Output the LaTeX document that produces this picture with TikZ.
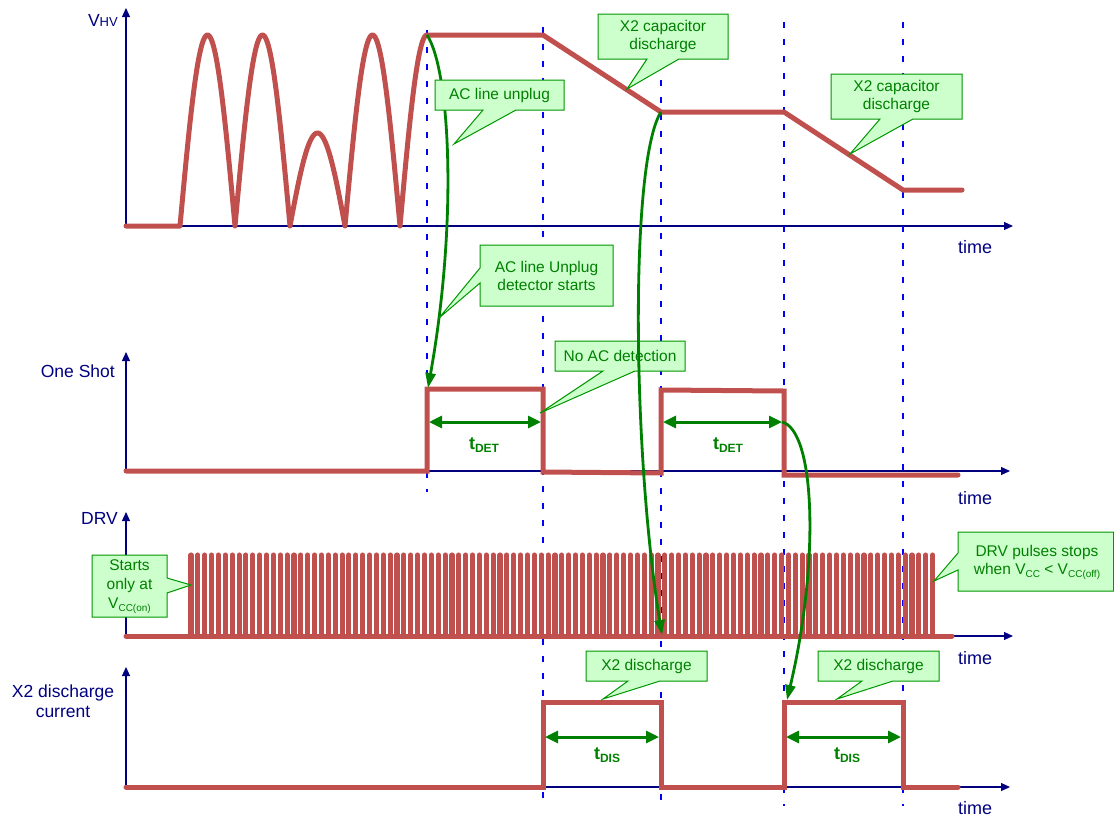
\documentclass[tikz,border=0pt]{standalone}
\usepackage{fontspec}
\setmainfont{Liberation Sans}
\usetikzlibrary{arrows.meta}
\definecolor{wred}{RGB}{192,80,77}
\definecolor{navy}{RGB}{0,0,128}
\definecolor{cfill}{RGB}{204,255,204}
\definecolor{cline}{RGB}{0,150,0}
\definecolor{ctext}{RGB}{0,128,0}
\definecolor{gcurve}{RGB}{0,128,0}
\newcommand{\lowsub}[2][10]{\raisebox{-0.35ex}{\fontsize{#1}{#1}\selectfont #2}}
\tikzset{
  axis/.style={draw=navy, line width=1.1pt, -{Triangle[length=9pt,width=8pt]}},
  lbl/.style={text=navy, font=\fontsize{17.5}{20}\selectfont, inner sep=0pt},
  timelbl/.style={text=navy, font=\fontsize{18}{20}\selectfont, anchor=base west, inner sep=0pt},
  guide/.style={draw=blue, line width=1.5pt, dash pattern=on 6pt off 11pt},
  wave/.style={draw=wred, line width=5pt, line cap=round, line join=round},
  sq/.style={draw=wred, line width=5pt, line cap=round, line join=miter},
  pulse/.style={draw=wred, line width=5.1pt, line cap=round},
  dimarrow/.style={draw=gcurve, line width=3pt, {Triangle[length=13pt,width=12pt]}-{Triangle[length=13pt,width=12pt]}},
  link/.style={draw=gcurve, line width=2.8pt, -{Triangle[length=15pt,width=10pt]}},
  cshape/.style={draw=cline, fill=cfill, line width=1pt, line join=miter},
  ctxt/.style={text=ctext, font=\fontsize{15.5}{18}\selectfont, align=center, inner sep=0pt},
  dimlbl/.style={text=gcurve, font=\fontsize{18}{18}\selectfont\bfseries, inner sep=0pt},
}
\begin{document}
\begin{tikzpicture}[x=1pt,y=-1pt]
\useasboundingbox (0,0) rectangle (1114,817);

% ---------- axes ----------
\coordinate (o1) at (126,226);
\coordinate (o2) at (126,471);
\coordinate (o3) at (126,636);
\coordinate (o4) at (126,787);
\coordinate (v1) at (126,8);
\coordinate (v2) at (126,352);
\coordinate (v3) at (126,512);
\coordinate (v4) at (126,667);
\coordinate (h1) at (1013,226);
\coordinate (h2) at (1010,471);
\coordinate (h3) at (1013,636);
\coordinate (h4) at (1010,787);
\draw[axis] (o1) -- (v1);
\draw[axis] (o1) -- (h1);
\draw[axis] (o2) -- (v2);
\draw[axis] (o2) -- (h2);
\draw[axis] (o3) -- (v3);
\draw[axis] (o3) -- (h3);
\draw[axis] (o4) -- (v4);
\draw[axis] (o4) -- (h4);

\node[lbl, anchor=base east] (lv) at (118,26) {V{\fontsize{13}{13}\selectfont HV}};
\node[lbl, anchor=base east] (lo) at (115,377) {One Shot};
\node[lbl, anchor=base east] (ld) at (118,524) {DRV};
\node[lbl, align=center] (lx) at (63,701) {X2 discharge\\current};
\node[timelbl] (t1) at (958,253) {time};
\node[timelbl] (t2) at (958,504) {time};
\node[timelbl] (t3) at (958,664) {time};
\node[timelbl] (t4) at (958,814) {time};

% ---------- dashed guides ----------
\coordinate (g1a) at (427,30);  \coordinate (g1b) at (427,492);
\coordinate (g2a) at (543,27);  \coordinate (g2b) at (543,806);
\coordinate (g3a) at (661,80);  \coordinate (g3b) at (661,806);
\coordinate (g4a) at (784,22);  \coordinate (g4b) at (784,806);
\coordinate (g5a) at (903,22);  \coordinate (g5b) at (903,806);
\draw[guide] (g1a) -- (g1b);
\draw[guide] (g2a) -- (g2b);
\draw[guide] (g3a) -- (g3b);
\draw[guide] (g4a) -- (g4b);
\draw[guide] (g5a) -- (g5b);

% ---------- VHV waveform ----------
\coordinate (p0) at (427,35);
\coordinate (p1) at (543,35);
\coordinate (p2) at (661,112);
\coordinate (p3) at (784,112);
\coordinate (p4) at (903,190);
\coordinate (p5) at (962,190);
\draw[wave] (o1) -- (180,226)
  -- plot[domain=180:235,samples=50] (\x,{226-191*sin(180*(\x-180)/55)})
  -- plot[domain=235:290,samples=50] (\x,{226-191*sin(180*(\x-235)/55)})
  -- plot[domain=290:345,samples=50] (\x,{226-93*sin(180*(\x-290)/55)})
  -- plot[domain=345:400,samples=50] (\x,{226-191*sin(180*(\x-345)/55)})
  -- plot[domain=400:427,samples=30] (\x,{226-191*sin(90*(\x-400)/27)})
  -- (p1) -- (p2) -- (p3) -- (p4) -- (p5);

% ---------- One Shot waveform ----------
\coordinate (s1) at (427,389);
\coordinate (s2) at (543,389);
\coordinate (s3) at (661,390);
\coordinate (s4) at (784,391);
\draw[sq] (o2) -- (427,471) -- (s1) -- (s2) -- (543,472) -- (661,473) -- (s3) -- (s4) -- (784,475) -- (958,475);

% ---------- DRV waveform ----------
\foreach \i in {0,...,108}{
  \draw[pulse] ({191+6.867*\i},636) -- ({191+6.867*\i},555);
}
\draw[wave] (o3) -- (952,636);

% ---------- X2 discharge current ----------
\coordinate (x1) at (543,702);
\coordinate (x2) at (661,702);
\coordinate (x3) at (784,702);
\coordinate (x4) at (903,702);
\draw[sq] (o4) -- (543,787) -- (x1) -- (x2) -- (661,787) -- (784,787) -- (x3) -- (x4) -- (903,787) -- (958,787);

% ---------- time spans ----------
\coordinate (d1a) at (429,422); \coordinate (d1b) at (541,422);
\coordinate (d2a) at (663,422); \coordinate (d2b) at (782,422);
\coordinate (d3a) at (545,737); \coordinate (d3b) at (659,737);
\coordinate (d4a) at (786,737); \coordinate (d4b) at (901,737);
\draw[dimarrow] (d1a) -- (d1b);
\draw[dimarrow] (d2a) -- (d2b);
\draw[dimarrow] (d3a) -- (d3b);
\draw[dimarrow] (d4a) -- (d4b);
\node[dimlbl] (td1) at (484,445) {t\lowsub[12]{DET}};
\node[dimlbl] (td2) at (728,445) {t\lowsub[12]{DET}};
\node[dimlbl] (tq1) at (607,755) {t\lowsub[12]{DIS}};
\node[dimlbl] (tq2) at (847,755) {t\lowsub[12]{DIS}};

% ---------- green link 1 (behind callouts) ----------
\draw[link] (p0) .. controls (450,70) and (458,220) .. (428,388);

% ---------- callouts ----------
\draw[cshape] (435,80) -- (564,80) -- (564,110) -- (516,110) -- (454,144) -- (483,110) -- (435,110) -- cycle;
\node[ctxt] (c1) at (499.5,95) {AC line unplug};

\draw[cshape] (598,14) -- (728,14) -- (728,59) -- (679,59) -- (627,89) -- (647,59) -- (598,59) -- cycle;
\node[ctxt] (c2) at (663,36.5) {X2 capacitor\\discharge};

\draw[cshape] (831,74) -- (962,74) -- (962,119) -- (913,119) -- (850,154) -- (880,119) -- (831,119) -- cycle;
\node[ctxt] (c3) at (896.5,96.5) {X2 capacitor\\discharge};

\draw[cshape] (480,245) -- (613,245) -- (613,306) -- (480,306) -- (480,283) -- (439,318) -- (480,268) -- cycle;
\node[ctxt] (c4) at (546.5,275.5) {AC line Unplug\\detector starts};

\draw[cshape] (555,341) -- (685,341) -- (685,371) -- (635,371) -- (540,413) -- (603,371) -- (555,371) -- cycle;
\node[ctxt] (c5) at (620,356) {No AC detection};

\draw[cshape] (92,555) -- (167,555) -- (167,578) -- (191,585) -- (167,593) -- (167,617) -- (92,617) -- cycle;
\node[ctxt, font=\fontsize{15.5}{19}\selectfont] (c6) at (129.5,587) {Starts\\only at\\V\lowsub{CC(on)}};

\draw[cshape] (958,532) -- (1113.5,532) -- (1113.5,591) -- (958,591) -- (958,570) -- (934,581) -- (958,553) -- cycle;
\node[ctxt] (c7) at (1037,562) {DRV pulses stops\\when V\lowsub{CC} < V\lowsub{CC(off)}};

\draw[cshape] (586,651) -- (707,651) -- (707,681) -- (660,681) -- (603,699) -- (628,681) -- (586,681) -- cycle;
\node[ctxt] (c8) at (646.5,666) {X2 discharge};

\draw[cshape] (818,651) -- (939,651) -- (939,681) -- (893,681) -- (837,699) -- (862,681) -- (818,681) -- cycle;
\node[ctxt] (c9) at (878.5,666) {X2 discharge};

% ---------- green links 2 and 3 ----------
\draw[link] (p2) .. controls (630,160) and (632,450) .. (662,635);
\draw[link] (d2b) .. controls (815,430) and (820,560) .. (787,700);
\end{tikzpicture}
\end{document}
